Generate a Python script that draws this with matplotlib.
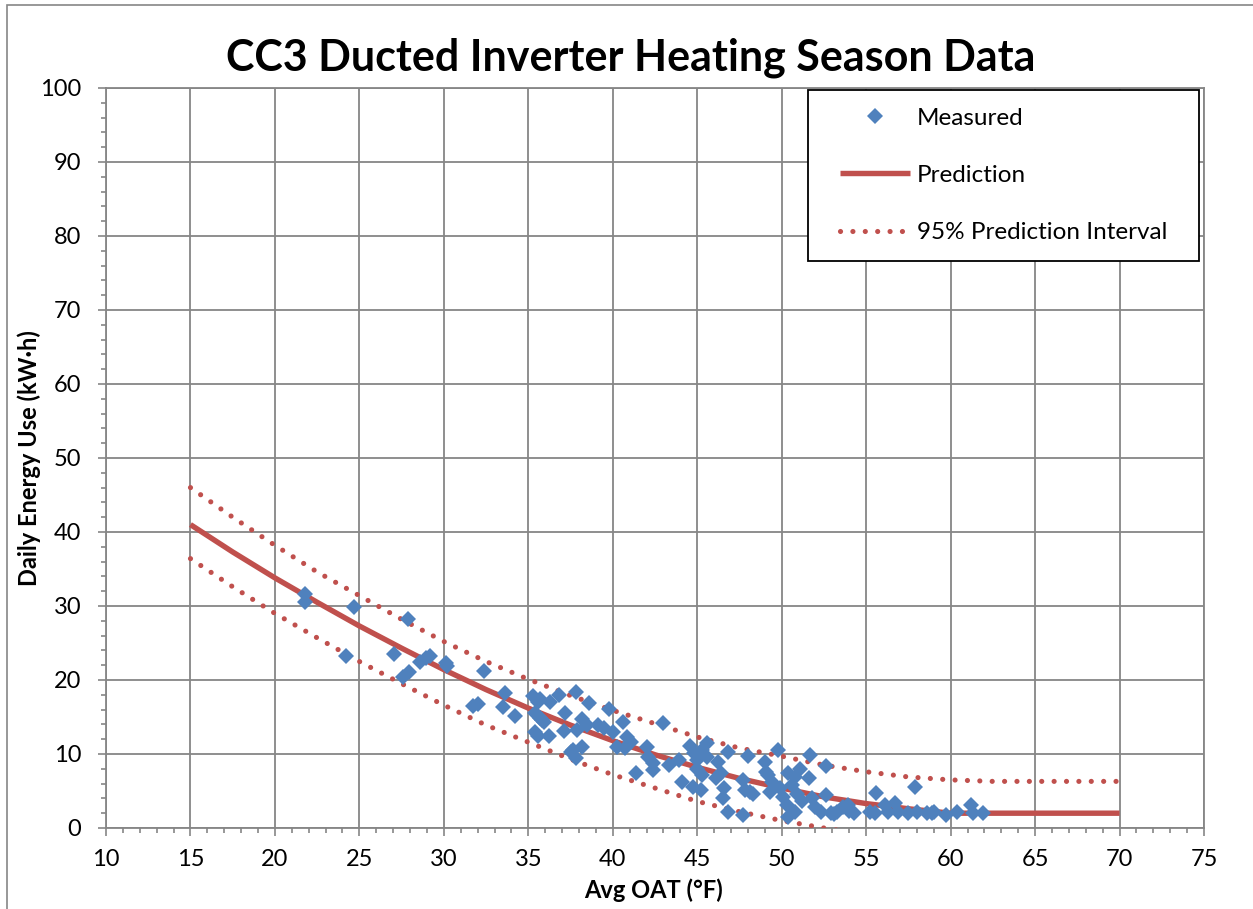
import matplotlib
matplotlib.use("Agg")
import matplotlib.pyplot as plt
from matplotlib.patches import Rectangle
from matplotlib.ticker import MultipleLocator

plt.rcParams['font.family'] = ['Lato', 'DejaVu Sans']

# measured daily points: average outdoor air temp (°F) and energy (kW·h)
oat = [21.8, 21.8, 24.7, 24.2, 27.05, 27.9, 27.6, 27.95, 28.6, 28.95, 29.2, 30.1, 30.2,
       32.4, 31.7, 32.0,
       33.6, 33.5, 34.2, 35.3, 35.7, 36.3, 36.8, 37.8, 38.6, 37.2, 35.4, 35.7, 35.9,
       35.4, 35.6, 36.2, 37.1, 37.9, 38.2, 38.5, 37.65, 37.5, 38.2, 37.8, 39.1, 39.8,
       39.5, 40.0, 40.6, 40.25, 40.85, 41.1, 42.0, 41.4, 42.1, 42.4, 43.0, 43.3, 43.9,
       44.1, 44.6, 44.75, 45.0, 45.3, 45.6, 46.2, 46.5, 46.8, 46.8, 47.7, 48.0, 47.7,
       48.1, 49.1, 49.3, 49.8, 35.6, 35.8, 40.7, 42.4,
       44.8, 45.3, 45.6, 45.0, 45.2, 46.1, 46.4, 46.6, 47.8, 48.3, 49.0, 49.2, 49.4,
       49.9, 50.1, 50.3, 50.6, 50.8, 50.8, 50.4,
       51.7, 52.6, 50.4, 51.1, 51.6, 51.8, 52.6, 52.3, 52.9, 53.3, 53.6, 53.9, 54.3,
       55.2, 55.6, 56.1, 56.3, 56.7, 56.9, 57.5, 57.9, 58.0, 58.6, 59.0, 59.7, 60.4,
       61.2, 61.3, 61.9, 53.1, 54.0, 55.5, 58.9, 51.2, 52.0, 50.9]
kwh = [31.6, 30.5, 29.9, 23.2, 23.5, 28.2, 20.4, 21.1, 22.4, 23.0, 23.2, 22.3, 21.9,
       21.2, 16.5, 16.8,
       18.2, 16.4, 15.1, 17.9, 17.4, 17.0, 18.0, 18.4, 16.9, 15.5, 15.5, 14.9, 14.3,
       13.0, 12.4, 12.4, 13.1, 13.2, 14.7, 13.9, 10.5, 10.3, 11.0, 9.5, 13.9, 16.1,
       13.5, 13.0, 14.3, 11.0, 12.3, 11.6, 10.9, 7.4, 9.6, 7.8, 14.2, 8.5, 9.2,
       6.2, 11.1, 5.5, 9.2, 7.2, 11.5, 8.9, 4.1, 2.2, 10.3, 1.8, 9.7, 6.5,
       4.9, 7.6, 4.9, 10.5, 17.0, 14.6, 10.8, 8.8,
       10.1, 10.5, 9.6, 8.0, 5.2, 6.7, 7.4, 5.4, 5.1, 4.6, 8.9, 7.2, 6.2,
       5.4, 4.2, 3.1, 5.8, 6.9, 2.2, 1.5,
       9.9, 8.4, 7.4, 8.0, 6.8, 4.0, 4.5, 2.2, 2.0, 2.2, 2.8, 3.1, 2.0,
       2.2, 4.7, 3.1, 2.2, 3.4, 2.2, 2.0, 5.5, 2.2, 2.0, 2.2, 1.8, 2.2,
       3.1, 2.0, 2.0, 1.9, 2.3, 2.0, 2.0, 3.6, 2.9, 4.6]

# prediction curve and 95% prediction interval, read every 2.5 °F
curve_oat = [15, 17.5, 20, 22.5, 25, 27.5, 30, 32.5, 35, 37.5, 40, 42.5, 45, 47.5,
             50, 52.5, 55, 57.5, 60, 62.5, 65, 67.5, 70]
pred = [41.0, 37.3, 33.8, 30.5, 27.3, 24.3, 21.4, 18.7, 16.2, 13.9, 11.8, 9.9, 8.2,
        6.7, 5.4, 4.2, 3.3, 2.6, 2.0, 2.0, 2.0, 2.0, 2.0]
upper = [46.0, 42.0, 38.2, 34.6, 31.4, 28.2, 25.2, 22.5, 20.1, 17.9, 15.9, 14.1, 12.3,
         10.8, 9.7, 8.5, 7.6, 6.9, 6.5, 6.3, 6.3, 6.3, 6.3]
lower_oat = [15, 17.5, 20, 22.5, 25, 27.5, 30, 32.5, 35, 37.5, 40, 42.5, 45, 47.5,
             50, 52.5, 55]
lower = [36.4, 32.6, 29.0, 25.7, 22.5, 19.5, 16.6, 13.9, 11.6, 9.3, 7.2, 5.4, 3.6,
         2.2, 1.0, 0.0, -0.9]

W, H = 1253, 909
fig = plt.figure(figsize=(W / 100, H / 100), dpi=100)
ax = fig.add_axes([106 / W, 1 - 828 / H, (1204 - 106) / W, (828 - 88) / H])

blue = '#4F81BD'
red = '#C0504D'
grey = '#868686'

dots = (0, (0.01, 2.4))
l_up, = ax.plot(curve_oat, upper, color=red, lw=3.7, linestyle=dots,
                dash_capstyle='round', zorder=3)
ax.plot(lower_oat, lower, color=red, lw=3.7, linestyle=dots,
        dash_capstyle='round', zorder=3)
l_pred, = ax.plot(curve_oat, pred, color=red, lw=3.9, solid_capstyle='butt', zorder=3)
l_meas, = ax.plot(oat, kwh, linestyle='none', marker='D', markersize=8.4,
                  color=blue, markeredgewidth=0, zorder=4)

ax.set_xlim(10, 75)
ax.set_ylim(0, 100)
ax.xaxis.set_major_locator(MultipleLocator(5))
ax.xaxis.set_minor_locator(MultipleLocator(1))
ax.yaxis.set_major_locator(MultipleLocator(10))
ax.yaxis.set_minor_locator(MultipleLocator(2))
ax.grid(True, which='major', color=grey, lw=1.3)
ax.set_axisbelow(True)
for s in ax.spines.values():
    s.set_color(grey)
    s.set_linewidth(1.3)
ax.tick_params(which='major', direction='out', length=5.8, width=1.2, color=grey,
               labelsize=17, colors='black')
ax.tick_params(which='minor', direction='out', length=3.6, width=1.2, color=grey)
ax.tick_params(axis='y', which='major', pad=12)
ax.tick_params(axis='x', which='major', pad=9)
for t in ax.get_xticklines() + ax.get_yticklines():
    t.set_markeredgecolor(grey)

fig.text(631 / W, 1 - 71 / H, 'CC3 Ducted Inverter Heating Season Data',
         ha='center', va='baseline', fontsize=31, fontweight='bold')
fig.text(653 / W, 1 - 890 / H, 'Avg OAT (°F)', ha='center', va='center',
         fontsize=17, fontweight='bold')
fig.text(29 / W, 1 - 458 / H, 'Daily Energy Use (kW·h)', ha='center', va='center',
         rotation=90, fontsize=17, fontweight='bold')

# legend frame and entries
fig.patches.append(Rectangle((808 / W, 1 - 261 / H), (1199 - 808) / W, (261 - 90) / H,
                             transform=fig.transFigure, facecolor='white',
                             edgecolor='black', lw=1.3, zorder=4))
fig.legend([l_meas, l_pred, l_up], ['Measured', 'Prediction', '95% Prediction Interval'],
           loc='center left', bbox_to_anchor=(840 / W, 1 - 175.5 / H),
           bbox_transform=fig.transFigure, frameon=False, borderpad=0,
           borderaxespad=0, handlelength=2.88, handletextpad=0.28,
           labelspacing=1.5, numpoints=1, fontsize=17.5).set_zorder(5)

# outer chart border
fig.patches.append(Rectangle((7 / W, -0.5), 2, 1.5 - 5 / H, transform=fig.transFigure,
                             fill=False, edgecolor=grey, lw=1.2, zorder=0))

fig.savefig('out.png', dpi=100)
